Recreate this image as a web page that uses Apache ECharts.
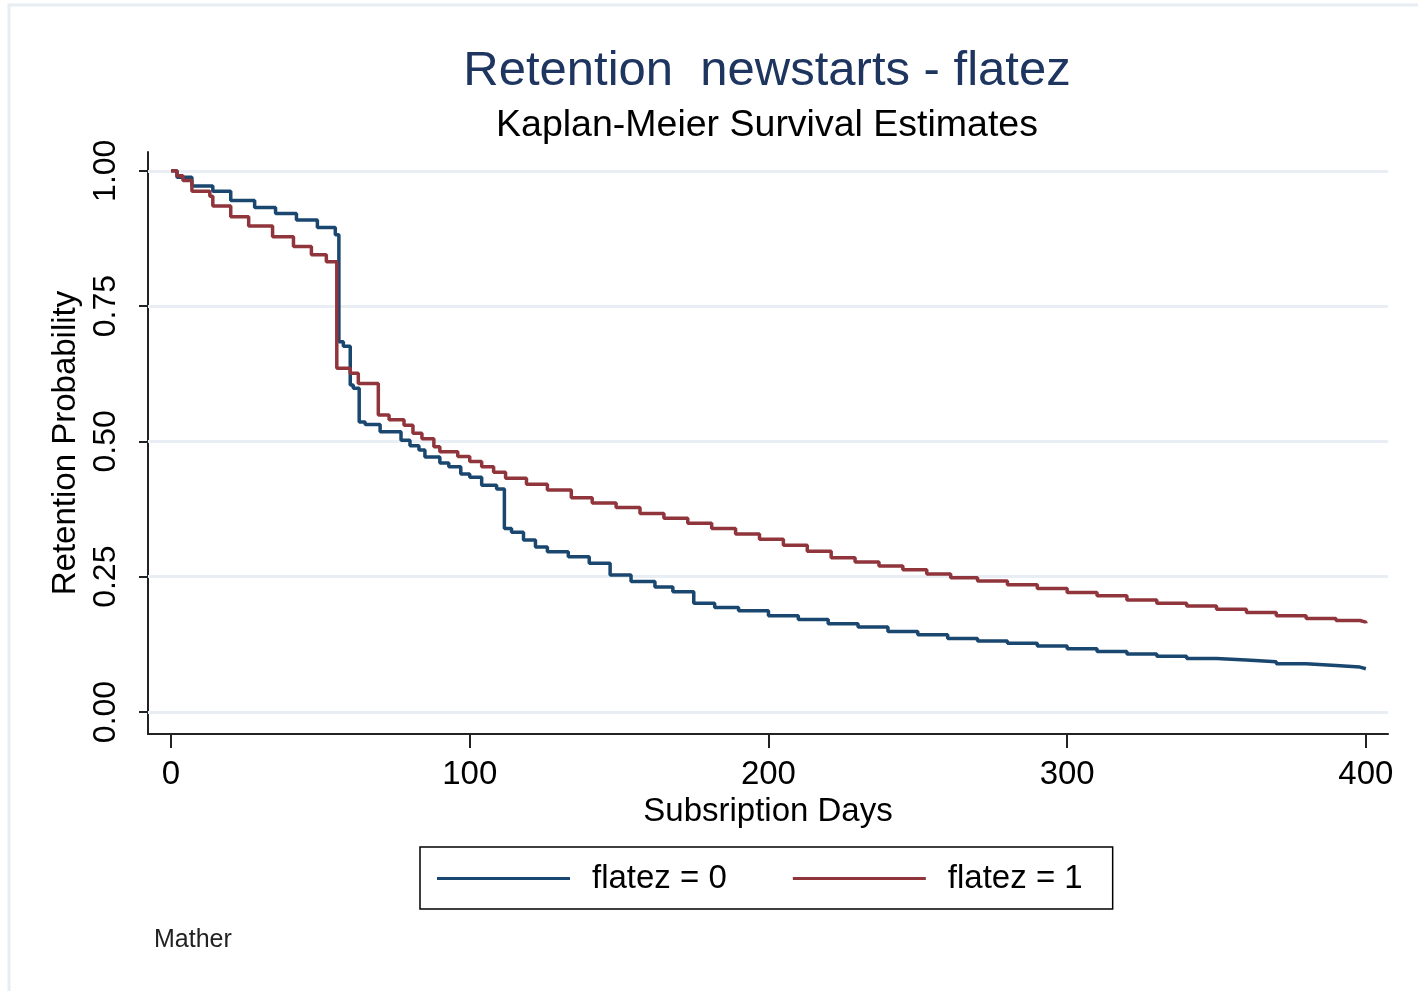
<!DOCTYPE html>
<html>
<head>
<meta charset="utf-8">
<script src="https://cdn.jsdelivr.net/npm/echarts@6/dist/echarts.min.js"></script>
<style>
html,body{margin:0;padding:0;background:#fff;}
#chart{width:1418px;height:991px;}
</style>
</head>
<body>
<div id="chart"></div>
<script>
const titleText = 'Retention  newstarts - flatez';
const subtitleText = 'Kaplan-Meier Survival Estimates';
const noteText = 'Mather';
const xAxisName = 'Subsription Days';
const yAxisName = 'Retention Probability';
const xTicks = [0, 100, 200, 300, 400];
const yTicks = [0, 0.25, 0.5, 0.75, 1];
const seriesNames = ['flatez = 0', 'flatez = 1'];

const blueDays = [0, 2, 7, 14, 20, 28, 35, 42, 49, 55, 56.2, 57.7, 60, 61, 63, 65, 70, 77, 80, 83, 85, 90, 93, 97, 100, 104, 109, 111.6, 114, 118, 122, 126, 133, 140, 147, 154, 162, 168, 175, 182, 190, 200, 210, 220, 230, 240, 250, 260, 270, 280, 290, 300, 310, 320, 330, 340, 350, 360, 370, 380, 390, 398, 400];
const blueVals = [1.0, 0.988, 0.972, 0.962, 0.945, 0.932, 0.921, 0.909, 0.895, 0.882, 0.684, 0.676, 0.604, 0.598, 0.536, 0.531, 0.518, 0.502, 0.492, 0.484, 0.471, 0.460, 0.453, 0.440, 0.434, 0.419, 0.412, 0.339, 0.332, 0.318, 0.305, 0.296, 0.287, 0.275, 0.253, 0.241, 0.231, 0.222, 0.201, 0.193, 0.187, 0.178, 0.171, 0.163, 0.157, 0.149, 0.143, 0.136, 0.131, 0.127, 0.122, 0.117, 0.112, 0.107, 0.103, 0.099, 0.096, 0.093, 0.089, 0.086, 0.083, 0.080, 0.079];

const redDays = [0, 2, 4, 7, 13, 14, 20, 26, 34, 41, 47, 52, 55.5, 60, 62.7, 69.4, 73, 78, 81, 84, 88, 90, 96, 100, 104, 108, 112, 119, 126, 134, 141, 149, 157, 165, 173, 181, 189, 197, 205, 213, 221, 229, 237, 245, 253, 261, 270, 280, 290, 300, 310, 320, 330, 340, 350, 360, 370, 380, 390, 398, 400];
const redVals = [1.0, 0.991, 0.982, 0.962, 0.953, 0.935, 0.915, 0.898, 0.878, 0.860, 0.845, 0.832, 0.635, 0.626, 0.607, 0.549, 0.540, 0.530, 0.515, 0.505, 0.490, 0.481, 0.472, 0.463, 0.453, 0.443, 0.432, 0.421, 0.410, 0.396, 0.386, 0.378, 0.367, 0.358, 0.349, 0.339, 0.329, 0.319, 0.308, 0.297, 0.285, 0.277, 0.270, 0.263, 0.255, 0.248, 0.242, 0.235, 0.228, 0.221, 0.215, 0.207, 0.201, 0.196, 0.190, 0.184, 0.178, 0.173, 0.169, 0.166, 0.164];

const FONT = '"Liberation Sans", Arial, sans-serif';
const zip = (a, b) => a.map((d, i) => [d, b[i]]);

const chart = echarts.init(document.getElementById('chart'), null, {renderer: 'canvas'});
chart.setOption({
  animation: false,
  backgroundColor: '#ffffff',
  textStyle: {fontFamily: FONT},
  title: [
    {text: titleText, left: 762, textAlign: 'center', top: 66, textVerticalAlign: 'middle',
     textStyle: {fontFamily: FONT, fontSize: 49, fontWeight: 'normal', color: '#1e3560'}},
    {text: subtitleText, left: 762, textAlign: 'center', top: 121, textVerticalAlign: 'middle',
     textStyle: {fontFamily: FONT, fontSize: 37.5, fontWeight: 'normal', color: '#000'}}
  ],
  graphic: [
    {type: 'rect', shape: {x: 9, y: 5, width: 1430, height: 1010}, silent: true,
     style: {fill: 'none', stroke: '#e8edf3', lineWidth: 3}},
    {type: 'text', left: 154, top: 928, silent: true,
     style: {text: noteText, font: '25px ' + FONT, fill: '#222'}}
  ],
  legend: {
    data: seriesNames,
    left: 420, top: 847,
    padding: [10, 30, 9, 17],
    itemGap: 66,
    itemWidth: 133, itemHeight: 3,
    icon: 'rect',
    borderColor: '#000', borderWidth: 1.5,
    textStyle: {fontFamily: FONT, fontSize: 33, color: '#000', lineHeight: 40, padding: [3, 0, 0, 17]}
  },
  grid: {left: 148, top: 152, right: 30, bottom: 257, containLabel: false},
  xAxis: {
    type: 'value', min: -7.7, max: 407.4,
    name: xAxisName, nameLocation: 'middle', nameGap: 54,
    nameTextStyle: {fontFamily: FONT, fontSize: 33, color: '#000'},
    axisLine: {show: true, onZero: false, lineStyle: {color: '#222', width: 2}},
    axisTick: {show: true, customValues: xTicks, length: 14, lineStyle: {color: '#222', width: 2}},
    axisLabel: {customValues: xTicks, margin: 24, fontSize: 33, fontFamily: FONT, color: '#000'},
    splitLine: {show: false}
  },
  yAxis: {
    type: 'value', min: -0.0406, max: 1.0347,
    name: yAxisName, nameLocation: 'middle', nameGap: 66, nameRotate: 90,
    nameTextStyle: {fontFamily: FONT, fontSize: 33, color: '#000'},
    axisLine: {show: true, onZero: false, lineStyle: {color: '#222', width: 2}},
    axisTick: {show: true, customValues: yTicks, length: 9, lineStyle: {color: '#222', width: 2}},
    axisLabel: {customValues: yTicks, rotate: 90, margin: 26, fontSize: 32, fontFamily: FONT, color: '#000',
                formatter: v => v.toFixed(2)},
    splitLine: {show: false}
  },
  series: [
    {
      name: 'grid', type: 'line', data: [], z: 1, silent: true,
      markLine: {
        silent: true, z: 1, symbol: ['none', 'none'], label: {show: false},
        lineStyle: {color: '#e8eef4', width: 3, type: 'solid'},
        data: yTicks.map(v => ({yAxis: v}))
      }
    },
    {
      name: seriesNames[0], type: 'line', step: 'end', data: zip(blueDays, blueVals),
      showSymbol: false, symbol: 'none', z: 3,
      itemStyle: {color: '#1a476f'},
      lineStyle: {color: '#1a476f', width: 3.5}
    },
    {
      name: seriesNames[1], type: 'line', step: 'end', data: zip(redDays, redVals),
      showSymbol: false, symbol: 'none', z: 4,
      itemStyle: {color: '#90353b'},
      lineStyle: {color: '#90353b', width: 3.5}
    }
  ]
});
</script>
</body>
</html>
